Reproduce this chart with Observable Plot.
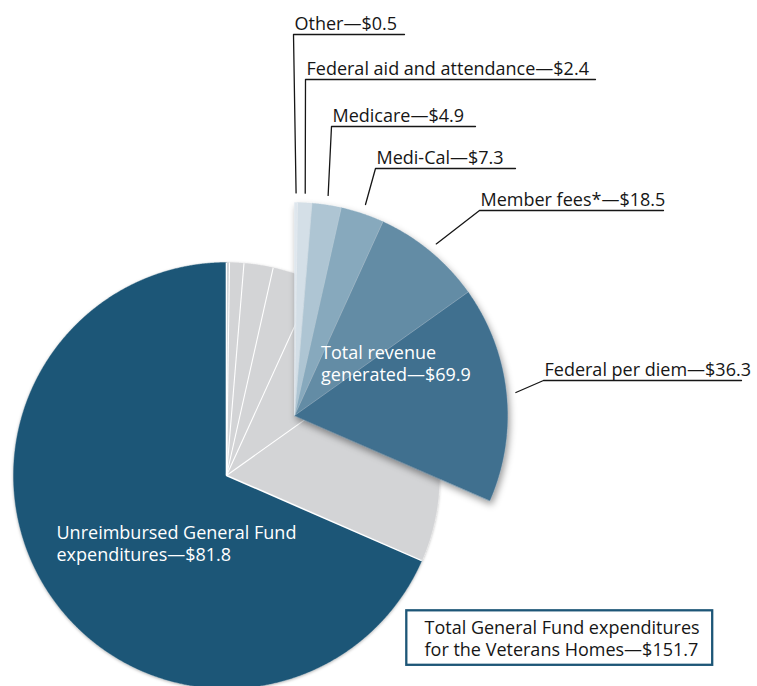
<!DOCTYPE html>
<html>
<head>
<meta charset="utf-8">
<script src="https://cdn.jsdelivr.net/npm/d3@7"></script>
<script src="https://cdn.jsdelivr.net/npm/@observablehq/plot@0.6"></script>
<style>
  html, body { margin: 0; padding: 0; background: #fff; overflow: hidden; }
  #chart { width: 757px; height: 686px; overflow: hidden; }
</style>
</head>
<body>
<div id="chart"></div>
<script>
// ---------- data (millions of dollars) ----------
const revenueSources = ["Other", "Federal aid and attendance", "Medicare", "Medi-Cal", "Member fees*", "Federal per diem"];
const revenueAmounts = [0.5, 2.4, 4.9, 7.3, 18.5, 36.3];
const revenueColors  = ["#dfe7ee", "#d4dfe7", "#aec5d3", "#87a9bd", "#648ca5", "#40708f"];
const totalRevenue = 69.9;
const unreimbursed = 81.8;
const totalExpenditures = 151.7;
const revenueTitle = ["Total revenue", "generated"];
const unreimbursedTitle = ["Unreimbursed General Fund", "expenditures"];
const totalTitle = ["Total General Fund expenditures", "for the Veterans Homes"];

// ---------- layout ----------
const W = 757, H = 686;
const R = 213;                       // pie radius
const mainCenter = [226, 475];
const explodeOffset = [68, -60];
const mainColor = "#1d5677";
const grayColor = "#d3d4d6";
// original wedges are drawn with a full turn = revenue + total expenditures
const degPerDollar = 360 / (totalRevenue + totalExpenditures);
// label elbows: [x of elbow, y of underline, x of underline end]
const labelElbows = [[293, 34, 404], [305, 79, 595], [331, 126, 475], [375, 168, 515], [479, 210, 663], [543, 380, 741]];

const fmt = v => "$" + v.toFixed(1);
const rad = d => d * Math.PI / 180;
const polar = (c, r, a) => [c[0] + r * Math.sin(rad(a)), c[1] - r * Math.cos(rad(a))];

function wedge(id, color, c, a0, a1) {
  const pts = [{id, color, x: c[0], y: c[1]}];
  const n = Math.max(2, Math.ceil((a1 - a0) / 0.25));
  for (let i = 0; i <= n; i++) {
    const [x, y] = polar(c, R, a0 + (a1 - a0) * i / n);
    pts.push({id, color, x, y});
  }
  return pts;
}

// cumulative angles of revenue slices
const bounds = [0];
revenueAmounts.forEach((v, i) => bounds.push(bounds[i] + v * degPerDollar));
const revenueEnd = bounds[bounds.length - 1];

// main pie
const mainPts = [];
revenueAmounts.forEach((v, i) => mainPts.push(...wedge("g" + i, grayColor, mainCenter, bounds[i], bounds[i + 1])));
mainPts.push(...wedge("unreimbursed", mainColor, mainCenter, revenueEnd, 360));
const mainSeps = bounds.map(a => {
  const [x2, y2] = polar(mainCenter, R, a);
  return {x1: mainCenter[0], y1: mainCenter[1], x2, y2, w: (a === 0 || a === revenueEnd) ? 1.6 : 1.1};
});

// exploded revenue wedge
const expCenter = [mainCenter[0] + explodeOffset[0], mainCenter[1] + explodeOffset[1]];
const expPts = [];
revenueAmounts.forEach((v, i) => expPts.push(...wedge("e" + i, revenueColors[i], expCenter, bounds[i], bounds[i + 1])));
const expSeps = bounds.slice(1, -1).map(a => {
  const [x2, y2] = polar(expCenter, R, a);
  return {x1: expCenter[0], y1: expCenter[1], x2, y2};
});

// leaders and labels
const leaderPts = [];
const labels = [];
revenueSources.forEach((name, i) => {
  const mid = (bounds[i] + bounds[i + 1]) / 2;
  const [sx, sy] = polar(expCenter, R * 1.045, mid);
  const [ex, ey, endX] = labelElbows[i];
  leaderPts.push({id: i, x: sx, y: sy}, {id: i, x: ex, y: ey}, {id: i, x: endX, y: ey});
  labels.push({x: ex + 1, y: ey - 5, text: `${name}—${fmt(revenueAmounts[i])}`});
});

const whiteLabels = [
  {x: 320.5, y: 380, text: `${revenueTitle[0]}\n${revenueTitle[1]}—${fmt(totalRevenue)}`},
  {x: 56, y: 560, text: `${unreimbursedTitle[0]}\n${unreimbursedTitle[1]}—${fmt(unreimbursed)}`}
];
const box = {x1: 406.3, x2: 712.2, y1: 610.3, y2: 664.8};
const boxText = [{x: 424, y: 655, text: `${totalTitle[0]}\n${totalTitle[1]}—${fmt(totalExpenditures)}`}];

const FS = 18, LH = 1.21;

const plot = Plot.plot({
  width: W, height: H, margin: 0,
  x: {domain: [0, W], range: [0, W], axis: null},
  y: {domain: [0, H], range: [0, H], axis: null},
  color: {type: "identity"},
  style: {fontFamily: "'Open Sans', sans-serif", background: "white"},
  marks: [
    Plot.line(mainPts, {x: "x", y: "y", z: "id", fill: "color", stroke: "color", strokeWidth: 0.4, curve: "linear-closed", ariaDescription: "mainpie"}),
    Plot.link(mainSeps, {x1: "x1", y1: "y1", x2: "x2", y2: "y2", stroke: "white", strokeWidth: "w"}),
    Plot.line(expPts, {x: "x", y: "y", z: "id", fill: "color", stroke: "color", strokeWidth: 0.4, curve: "linear-closed", ariaDescription: "exploded"}),
    Plot.link(expSeps, {x1: "x1", y1: "y1", x2: "x2", y2: "y2", stroke: "white", strokeOpacity: 0.35, strokeWidth: 0.8}),
    Plot.line(leaderPts, {x: "x", y: "y", z: "id", stroke: "#161616", strokeWidth: 1.3}),
    Plot.text(labels, {x: "x", y: "y", text: "text", textAnchor: "start", lineAnchor: "bottom", fontSize: FS, fill: "#161616"}),
    Plot.text(whiteLabels, {x: "x", y: "y", text: "text", textAnchor: "start", lineAnchor: "bottom", lineHeight: LH, fontSize: FS, fill: "white"}),
    Plot.rect([box], {x1: "x1", x2: "x2", y1: "y1", y2: "y2", fill: "white", stroke: mainColor, strokeWidth: 2.3}),
    Plot.text(boxText, {x: "x", y: "y", text: "text", textAnchor: "start", lineAnchor: "bottom", lineHeight: LH, fontSize: FS, fill: "#161616"})
  ]
});

document.getElementById("chart").appendChild(plot);

const svg = d3.select(plot);
const defs = svg.insert("defs", ":first-child");
defs.append("filter").attr("id", "shadowExp").attr("x", "-20%").attr("y", "-20%").attr("width", "150%").attr("height", "150%")
  .append("feDropShadow").attr("dx", 2).attr("dy", 4).attr("stdDeviation", 3.5).attr("flood-color", "#000").attr("flood-opacity", 0.4);
defs.append("filter").attr("id", "shadowMain").attr("x", "-10%").attr("y", "-10%").attr("width", "120%").attr("height", "120%")
  .append("feDropShadow").attr("dx", 0).attr("dy", 1).attr("stdDeviation", 1.5).attr("flood-color", "#000").attr("flood-opacity", 0.3);
svg.selectAll('g[aria-description="exploded"]').attr("filter", "url(#shadowExp)");
svg.selectAll('g[aria-description="mainpie"]').attr("filter", "url(#shadowMain)");
</script>
</body>
</html>
